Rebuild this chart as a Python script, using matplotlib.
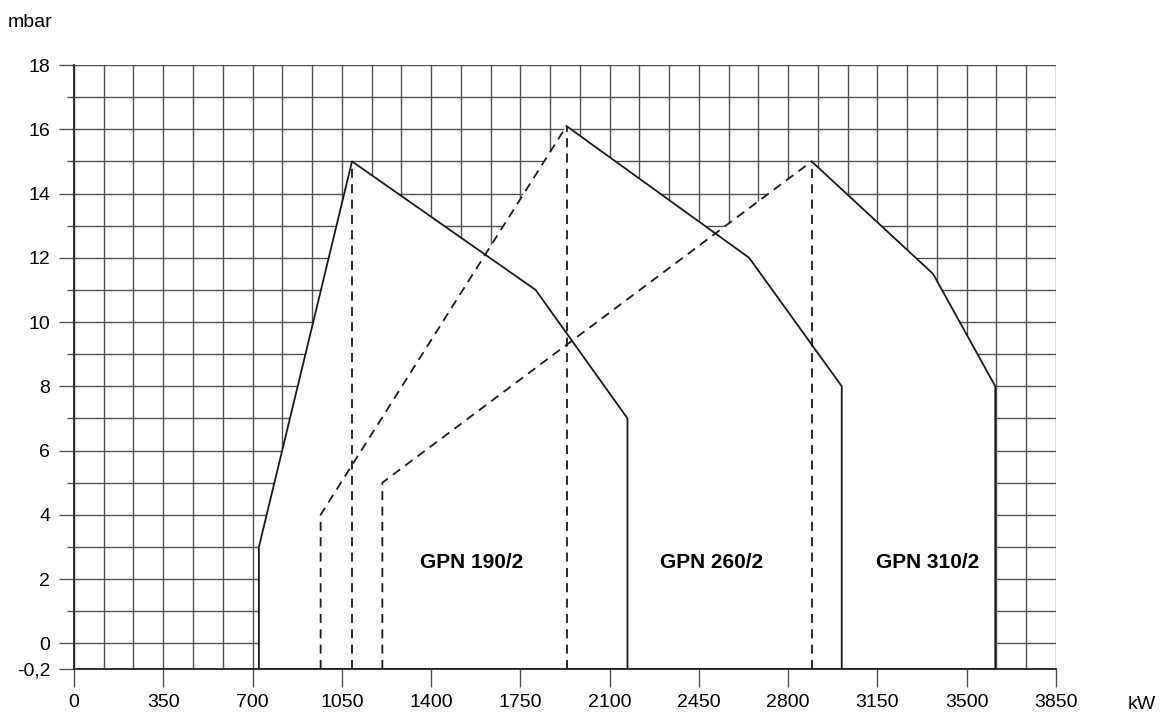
import numpy as np
import matplotlib.pyplot as plt
from matplotlib.ticker import MultipleLocator, FixedLocator

plt.rcParams['font.family'] = ['Liberation Sans', 'DejaVu Sans']

# working field envelopes (kW, mbar)
gpn190_x = [725, 725, 1090, 1810, 2170, 2170]
gpn190_y = [-0.2, 3.0, 15.0, 11.0, 7.0, -0.2]
gpn260_x = [967, 967, 1931, 2647, 3010, 3010]
gpn260_y = [-0.2, 4.0, 16.1, 12.0, 8.0, -0.2]
gpn310_x = [1209, 1209, 2892, 3368, 3612, 3612]
gpn310_y = [-0.2, 5.0, 15.0, 11.5, 8.0, -0.2]

names = ['GPN 190/2', 'GPN 260/2', 'GPN 310/2']
label_x = [1560, 2500, 3348]
label_y = 2.5

x_ticks = [0, 350, 700, 1050, 1400, 1750, 2100, 2450, 2800, 3150, 3500, 3850]
y_ticks = [-0.2, 0, 2, 4, 6, 8, 10, 12, 14, 16, 18]
y_labels = ['-0,2', '0', '2', '4', '6', '8', '10', '12', '14', '16', '18']


# stretch the small negative part like in the original drawing
def fwd(y):
    y = np.asarray(y, dtype=float)
    return np.where(y < 0, y * 4.0, y)


def inv(y):
    y = np.asarray(y, dtype=float)
    return np.where(y < 0, y / 4.0, y)


fig = plt.figure(figsize=(11.63, 7.13), dpi=100)
ax = fig.add_axes([0.0636, 0.0617, 0.8444, 0.8471])
ax.set_yscale('function', functions=(fwd, inv))
ax.set_xlim(0, 3850)
ax.set_ylim(-0.2, 18)

ax.xaxis.set_major_locator(FixedLocator(x_ticks))
ax.xaxis.set_minor_locator(MultipleLocator(350 / 3))
ax.yaxis.set_major_locator(FixedLocator(y_ticks))
ax.yaxis.set_minor_locator(MultipleLocator(1))
ax.set_yticklabels(y_labels)

ax.grid(True, which='both', color='#505050', lw=1.0, zorder=0)
ax.set_axisbelow(True)
ax.tick_params(axis='y', which='major', length=11, width=1.0, color='#505050',
               labelsize=14, pad=6)
ax.tick_params(axis='x', which='major', length=13, width=1.0, color='#505050',
               labelsize=14, pad=5)
ax.tick_params(axis='y', which='minor', length=5, width=1.0, color='#505050')
ax.tick_params(axis='x', which='minor', length=0)
for s in ['top', 'right']:
    ax.spines[s].set_visible(False)
for s in ['left', 'bottom']:
    ax.spines[s].set_color('#222222')
    ax.spines[s].set_linewidth(1.3)

dash = (0, (5, 3.5))
lw = 1.3
for xs, ys in [(gpn190_x, gpn190_y), (gpn260_x, gpn260_y), (gpn310_x, gpn310_y)]:
    ax.fill(xs, ys, color='white', zorder=2, lw=0)

# GPN 190/2 fully solid
ax.plot(gpn190_x, gpn190_y, color='#1a1a1a', lw=lw, zorder=3)
# GPN 260/2 and 310/2: dashed left side, solid right side
for xs, ys in [(gpn260_x, gpn260_y), (gpn310_x, gpn310_y)]:
    ax.plot(xs[:3], ys[:3], color='#1a1a1a', lw=lw, ls=dash, zorder=3)
    ax.plot(xs[2:], ys[2:], color='#1a1a1a', lw=lw, zorder=3)
# vertical dashed lines from the peaks
for xs, ys in [(gpn190_x, gpn190_y), (gpn260_x, gpn260_y), (gpn310_x, gpn310_y)]:
    ax.plot([xs[2], xs[2]], [-0.2, ys[2]], color='#1a1a1a', lw=lw, ls=dash, zorder=3)
# bottom line
ax.plot([gpn190_x[0], gpn310_x[-1]], [-0.2, -0.2], color='#1a1a1a', lw=lw + 0.5, zorder=3)

for name, lx in zip(names, label_x):
    ax.text(lx, label_y, name, ha='center', va='center', fontsize=15,
            fontweight='bold', zorder=4)

fig.text(8 / 1163, 1 - 27 / 713, 'mbar', ha='left', va='baseline', fontsize=14)
fig.text(1128 / 1163, 1 - 709 / 713, 'kW', ha='left', va='baseline', fontsize=14)

fig.savefig('out.png', dpi=100)
